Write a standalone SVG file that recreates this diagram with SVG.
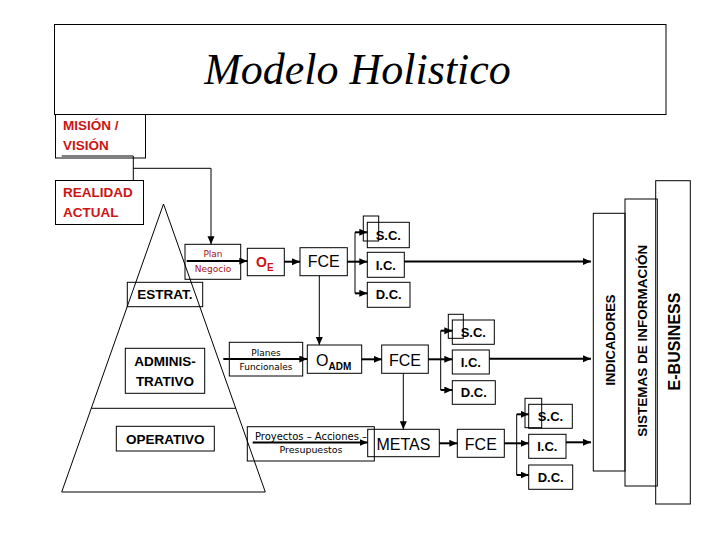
<svg xmlns="http://www.w3.org/2000/svg" width="720" height="540" viewBox="0 0 720 540">
<defs>
<marker id="ah" markerUnits="userSpaceOnUse" markerWidth="9" markerHeight="8" refX="8" refY="3.5" orient="auto">
<path d="M0,0 L8,3.5 L0,7 z" fill="#000"/>
</marker>
<style>
.b{fill:none;stroke:#000;stroke-width:1}
.c{fill:none;stroke:#000;stroke-width:2}
.t{fill:none;stroke:#000;stroke-width:1}
.lb{font-family:"Liberation Sans",Arial,sans-serif;font-weight:bold;font-size:13.5px;fill:#000}
.red{font-family:"Liberation Sans",Arial,sans-serif;font-weight:bold;font-size:13.5px;fill:#cc1414}
.sm{font-family:"DejaVu Sans",Verdana,sans-serif;font-size:9px;fill:#000}
.smr{font-family:"DejaVu Sans",Verdana,sans-serif;font-size:9px;fill:#a81010}
.big{font-family:"Liberation Sans",Arial,sans-serif;font-size:16px;fill:#000}
.bx{font-family:"Liberation Sans",Arial,sans-serif;font-weight:bold;font-size:13px;fill:#000}
</style>
</defs>
<rect width="720" height="540" fill="#fff"/>

<g id="title">
<rect class="b" x="54.5" y="24.5" width="611.5" height="90"/>
<text x="357.5" y="83.5" text-anchor="middle" font-family="Liberation Serif,'Times New Roman',serif" font-style="italic" font-size="44">Modelo Holistico</text>
</g>

<g id="mision">
<rect class="b" x="55.5" y="114.5" width="90" height="43.5"/>
<text class="red" x="63" y="130">MISIÓN /</text>
<text class="red" x="63" y="150">VISIÓN</text>
</g>

<g id="realidad">
<rect class="b" x="55.5" y="180.5" width="88" height="44"/>
<text class="red" x="63" y="196.5">REALIDAD</text>
<text class="red" x="63" y="216.5">ACTUAL</text>
</g>

<g id="piramide">
<polygon class="b" points="163.5,204 61.7,492 265.3,492"/>
<line class="b" x1="91.4" y1="408.3" x2="235.6" y2="408.3"/>
</g>

<g id="estrat">
<rect class="b" x="127.3" y="282.3" width="75.4" height="24.4"/>
<text class="lb" x="165" y="299" text-anchor="middle">ESTRAT.</text>
</g>
<g id="administrativo">
<rect class="b" x="125.3" y="348.3" width="79.4" height="45"/>
<text class="lb" x="165" y="366" text-anchor="middle">ADMINIS-</text>
<text class="lb" x="165" y="386" text-anchor="middle">TRATIVO</text>
</g>
<g id="operativo">
<rect class="b" x="116.3" y="426.3" width="98" height="24.7"/>
<text class="lb" x="165.3" y="443.5" text-anchor="middle">OPERATIVO</text>
</g>

<g id="plan-negocio">
<rect class="b" x="185" y="244.3" width="55.7" height="35"/>
<text class="smr" x="213" y="257.3" text-anchor="middle">Plan</text>
<text class="smr" x="213" y="271.7" text-anchor="middle">Negocio</text>
</g>
<g id="oe">
<rect class="b" x="247.3" y="248.3" width="37" height="27.4"/>
<text x="256" y="267" font-family="Liberation Sans,Arial,sans-serif" font-weight="bold" font-size="14" fill="#cc1414">O<tspan font-size="10" dy="3.5">E</tspan></text>
</g>
<g id="fce1">
<rect class="b" x="300" y="247.7" width="47.3" height="28"/>
<text class="big" x="323.7" y="267.3" text-anchor="middle">FCE</text>
</g>
<g id="sc1">
<rect class="b" x="367.3" y="222.3" width="42" height="25.4"/>
<rect class="b" x="363.3" y="216" width="15.4" height="25"/>
<text class="bx" x="388.3" y="239.5" text-anchor="middle">S.C.</text>
</g>
<g id="ic1">
<rect class="b" x="367.3" y="252.3" width="37" height="25"/>
<text class="bx" x="385.8" y="269.5" text-anchor="middle">I.C.</text>
</g>
<g id="dc1">
<rect class="b" x="367.3" y="282.3" width="42.7" height="25"/>
<text class="bx" x="388.7" y="299.3" text-anchor="middle">D.C.</text>
</g>

<g id="planes-funcionales">
<rect class="b" x="229.3" y="342.3" width="73.4" height="33.7"/>
<text class="sm" x="266" y="355.7" text-anchor="middle">Planes</text>
<text class="sm" x="266" y="369.5" text-anchor="middle">Funcionales</text>
</g>
<g id="oadm">
<rect class="b" x="307.3" y="345" width="54.4" height="28.3"/>
<text x="316" y="365.5" font-family="Liberation Sans,Arial,sans-serif" font-size="16">O<tspan font-size="10" font-weight="bold" dy="4">ADM</tspan></text>
</g>
<g id="fce2">
<rect class="b" x="381.7" y="345" width="46.6" height="28.3"/>
<text class="big" x="405" y="365.5" text-anchor="middle">FCE</text>
</g>
<g id="sc2">
<rect class="b" x="452.3" y="320" width="42" height="24.3"/>
<rect class="b" x="448.3" y="314.3" width="15" height="24"/>
<text class="bx" x="473.3" y="337" text-anchor="middle">S.C.</text>
</g>
<g id="ic2">
<rect class="b" x="452.3" y="350" width="37" height="24"/>
<text class="bx" x="470.8" y="367" text-anchor="middle">I.C.</text>
</g>
<g id="dc2">
<rect class="b" x="452.3" y="380.7" width="43" height="23.6"/>
<text class="bx" x="473.8" y="397.3" text-anchor="middle">D.C.</text>
</g>

<g id="proyectos">
<rect class="b" x="247.3" y="426.7" width="127" height="34.3"/>
<text class="sm" x="255" y="439.5" font-size="10" style="font-size:10px" textLength="112" lengthAdjust="spacing">Proyectos – Acciones –</text>
<text class="sm" x="279.5" y="452.5" style="font-size:9.5px" textLength="63" lengthAdjust="spacing">Presupuestos</text>
</g>
<g id="metas">
<rect class="b" x="367.7" y="429.3" width="71.6" height="27.4"/>
<text class="big" x="403.5" y="449.5" text-anchor="middle">METAS</text>
</g>
<g id="fce3">
<rect class="b" x="457.3" y="429.3" width="47" height="28"/>
<text class="big" x="480.8" y="449.5" text-anchor="middle">FCE</text>
</g>
<g id="sc3">
<rect class="b" x="528.7" y="404.3" width="43.6" height="24"/>
<rect class="b" x="525" y="398.3" width="16.7" height="29.4"/>
<text class="bx" x="550.5" y="421" text-anchor="middle">S.C.</text>
</g>
<g id="ic3">
<rect class="b" x="528.7" y="434.3" width="37.3" height="24"/>
<text class="bx" x="547.3" y="451.3" text-anchor="middle">I.C.</text>
</g>
<g id="dc3">
<rect class="b" x="528.7" y="465" width="44" height="24.3"/>
<text class="bx" x="550.7" y="482" text-anchor="middle">D.C.</text>
</g>

<g id="indicadores">
<rect class="b" x="593.3" y="213.3" width="31.7" height="257.7"/>
<text class="lb" transform="translate(614.5,340) rotate(-90)" text-anchor="middle" style="font-size:13px">INDICADORES</text>
</g>
<g id="sistemas">
<rect class="b" x="625" y="199" width="32.3" height="287"/>
<text class="lb" transform="translate(646.5,340.8) rotate(-90)" text-anchor="middle">SISTEMAS DE INFORMACIÓN</text>
</g>
<g id="ebusiness">
<rect class="b" x="655.7" y="180.7" width="34.6" height="323.3"/>
<text class="lb" transform="translate(680,341.5) rotate(-90)" text-anchor="middle" style="font-size:16px">E-BUSINESS</text>
</g>

<g id="connectors">
<polyline class="t" points="61.7,156 133.3,156 133.3,180.5"/>
<polyline class="t" points="133.3,168.3 211,168.3 211,244.3" marker-end="url(#ah)"/>
<line class="c" x1="186.7" y1="261" x2="247.3" y2="261" marker-end="url(#ah)"/>
<line class="c" x1="284.3" y1="261.7" x2="300" y2="261.7" marker-end="url(#ah)"/>
<line class="c" x1="347.3" y1="261.7" x2="355" y2="261.7"/>
<line class="t" x1="355" y1="232.3" x2="355" y2="293.3"/>
<line class="c" x1="355" y1="232.3" x2="367.3" y2="232.3" marker-end="url(#ah)"/>
<line class="c" x1="355" y1="261.7" x2="367.3" y2="261.7" marker-end="url(#ah)"/>
<line class="c" x1="355" y1="293.3" x2="367.3" y2="293.3" marker-end="url(#ah)"/>
<line class="c" x1="404.3" y1="261.5" x2="591" y2="261.5" marker-end="url(#ah)"/>
<line class="t" x1="319.3" y1="275.7" x2="319.3" y2="345" marker-end="url(#ah)"/>

<line class="c" x1="223.3" y1="359" x2="307.3" y2="359" marker-end="url(#ah)"/>
<line class="c" x1="361.7" y1="359.3" x2="381.7" y2="359.3" marker-end="url(#ah)"/>
<line class="c" x1="428.3" y1="359.3" x2="440.7" y2="359.3"/>
<line class="t" x1="440.7" y1="330.7" x2="440.7" y2="390"/>
<line class="c" x1="440.7" y1="330.7" x2="452.3" y2="330.7" marker-end="url(#ah)"/>
<line class="c" x1="440.7" y1="359.3" x2="452.3" y2="359.3" marker-end="url(#ah)"/>
<line class="c" x1="440.7" y1="390" x2="452.3" y2="390" marker-end="url(#ah)"/>
<line class="c" x1="489.3" y1="358.7" x2="591" y2="358.7" marker-end="url(#ah)"/>
<line class="t" x1="403.3" y1="373.3" x2="403.3" y2="429.3" marker-end="url(#ah)"/>

<line class="c" x1="252.7" y1="442.5" x2="367.7" y2="442.5" marker-end="url(#ah)"/>
<line class="c" x1="439.3" y1="443.3" x2="457.3" y2="443.3" marker-end="url(#ah)"/>
<line class="c" x1="504.3" y1="443.3" x2="516.7" y2="443.3"/>
<line class="t" x1="516.7" y1="414.3" x2="516.7" y2="475"/>
<line class="c" x1="516.7" y1="414.3" x2="528.7" y2="414.3" marker-end="url(#ah)"/>
<line class="c" x1="516.7" y1="443.3" x2="528.7" y2="443.3" marker-end="url(#ah)"/>
<line class="c" x1="516.7" y1="475" x2="528.7" y2="475" marker-end="url(#ah)"/>
<line class="c" x1="566" y1="442.3" x2="591" y2="442.3" marker-end="url(#ah)"/>
</g>
</svg>
